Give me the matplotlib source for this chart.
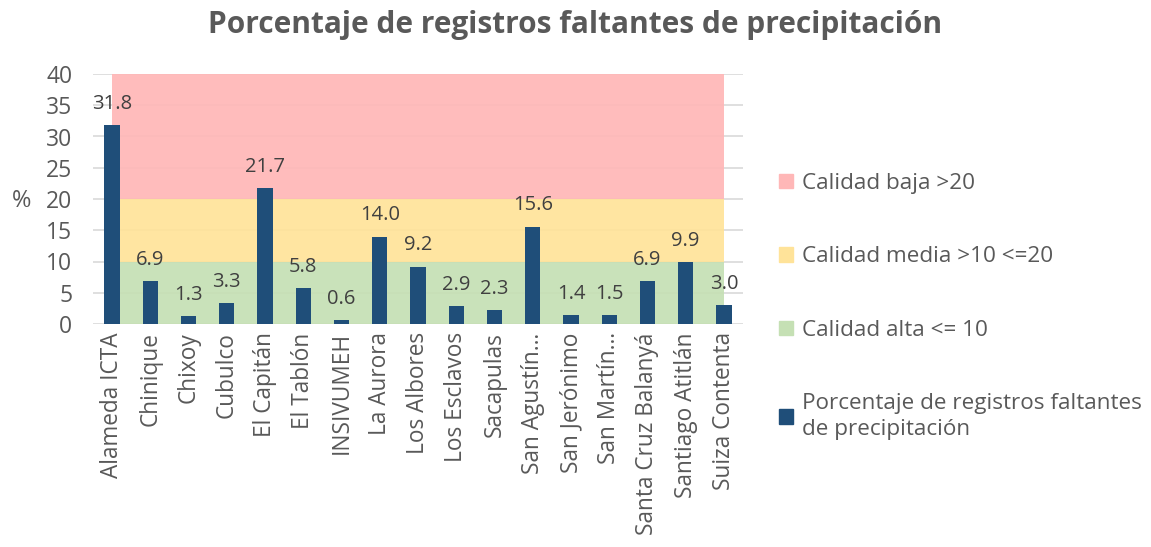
import matplotlib
matplotlib.use("Agg")
import matplotlib.pyplot as plt
from matplotlib.patches import Patch
import numpy as np

stations = ["Alameda ICTA", "Chinique", "Chixoy", "Cubulco", "El Capitán", "El Tablón",
            "INSIVUMEH", "La Aurora", "Los Albores", "Los Esclavos", "Sacapulas",
            "San Agustín…", "San Jerónimo", "San Martín…", "Santa Cruz Balanyá",
            "Santiago Atitlán", "Suiza Contenta"]
missing = [31.8, 6.9, 1.3, 3.3, 21.7, 5.8, 0.6, 14.0, 9.2, 2.9, 2.3, 15.6, 1.4, 1.5, 6.9, 9.9, 3.0]
band_high = [10] * len(stations)   # Calidad alta <= 10
band_mid = [10] * len(stations)    # Calidad media >10 <=20
band_low = [20] * len(stations)    # Calidad baja >20

series_names = ["Calidad baja >20", "Calidad media >10 <=20", "Calidad alta <= 10",
                "Porcentaje de registros faltantes\nde precipitación"]
yticks = [0, 5, 10, 15, 20, 25, 30, 35, 40]

plt.rcParams['font.family'] = ['Open Sans', 'DejaVu Sans']
txt = "#595959"
c_red, c_yel, c_grn, c_bar = "#FFB7B7", "#FFE399", "#C5E0B4", "#1F4E79"

fig = plt.figure(figsize=(11.51, 5.47), dpi=100)
ax = fig.add_axes([93/1151, 1-324/547, (743-93)/1151, 250/547])

x = np.arange(len(stations))
lo = np.zeros(len(stations))
h1 = lo + np.array(band_high)
h2 = h1 + np.array(band_mid)
h3 = h2 + np.array(band_low)
ax.fill_between(x, lo, h1, color=c_grn, lw=0, zorder=1, alpha=0.92)
ax.fill_between(x, h1, h2, color=c_yel, lw=0, zorder=1, alpha=0.92)
ax.fill_between(x, h2, h3, color=c_red, lw=0, zorder=1, alpha=0.92)

ax.set_axisbelow(True)
for t in yticks:
    ax.axhline(t, color="#D9D9D9", lw=1.2, zorder=0)

ax.bar(x, missing, width=0.4, color=c_bar, zorder=3)
for xi, v in zip(x, missing):
    ax.annotate(f"{v:.1f}", (xi, v), xytext=(0, 8), textcoords="offset points",
                ha="center", va="bottom", fontsize=14.5, color="#404040", zorder=4)

ax.set_xlim(-0.5, len(stations) - 0.5)
ax.set_ylim(0, 40)
ax.set_yticks(yticks)
ax.set_yticklabels([str(t) for t in yticks], fontsize=16.5, color=txt)
ax.set_xticks(x)
ax.set_xticklabels(stations, rotation=90, fontsize=16.3, color=txt)
ax.tick_params(axis="y", length=0, pad=15)
ax.tick_params(axis="x", length=0, pad=6)
for s in ax.spines.values():
    s.set_visible(False)
fig.text(22/1151, 1-201/547, "%", fontsize=17, color=txt, ha="center", va="center")

fig.suptitle("Porcentaje de registros faltantes de precipitación", x=0.5, y=0.982,
             fontsize=21.5, fontweight="bold", color=txt)

handles = [Patch(color=c_red), Patch(color=c_yel), Patch(color=c_grn), Patch(color=c_bar)]
leg = fig.legend(handles, series_names, loc="upper left", bbox_to_anchor=(759/1151, 1-153/547),
                 frameon=False, fontsize=16.2, labelcolor=txt, handlelength=0.6, handleheight=0.6,
                 handletextpad=0.4, labelspacing=2.32)
for t in leg.get_texts():
    t.set_linespacing(1.32)

fig.savefig("out.png", dpi=100)
